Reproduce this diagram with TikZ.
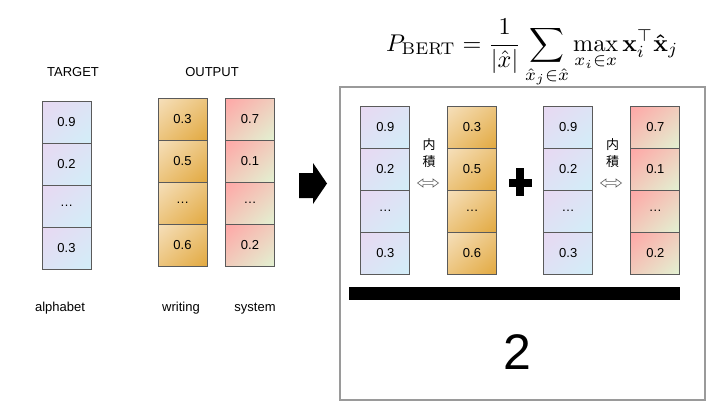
\documentclass[tikz,border=0pt]{standalone}
\usepackage{amsmath,amssymb,bm}
\usepackage[no-math]{fontspec}
\setmainfont{Liberation Sans}
\newfontfamily\cjk{Noto Sans CJK JP}
\usetikzlibrary{shadings}
\definecolor{tgA}{HTML}{E8D8F2}
\definecolor{tgB}{HTML}{D2EEF8}
\definecolor{wrA}{HTML}{F6E0BC}
\definecolor{wrB}{HTML}{E2A940}
\definecolor{syA}{HTML}{FFA6A6}
\definecolor{syB}{HTML}{E2F2D2}
\definecolor{cellborder}{HTML}{5A5A5A}
\definecolor{framegray}{HTML}{9A9A9A}
\newcommand{\mkcol}[8]{%
  % #1 name prefix, #2 x center, #3 y top, #4 style, #5-#8 values
  \node[cellbox,#4] (#1a) at (#2,#3+21) {#5};
  \node[cellbox,#4] (#1b) at (#2,#3+63) {#6};
  \node[cellbox,#4] (#1c) at (#2,#3+105) {#7};
  \node[cellbox,#4] (#1d) at (#2,#3+147) {#8};
}
\tikzset{
  cellbox/.style={draw=cellborder, line width=0.9pt, minimum width=49pt, minimum height=42pt, inner sep=0pt, font=\fontsize{13}{15}\selectfont},
  tgcell/.style={upper left=tgA, lower right=tgB, upper right=tgA!50!tgB, lower left=tgA!50!tgB},
  wrcell/.style={upper left=wrA, lower right=wrB, upper right=wrA!50!wrB, lower left=wrA!50!wrB},
  sycell/.style={upper left=syA, lower right=syB, upper right=syA!50!syB, lower left=syA!50!syB},
  lbl/.style={font=\fontsize{13}{15}\selectfont, inner sep=0pt},
  cjklbl/.style={font=\cjk\fontsize{13}{15}\selectfont, inner sep=0pt},
  dblarrow/.style={draw=cellborder, line width=0.6pt, fill=white},
}
\begin{document}
\begin{tikzpicture}[x=1pt,y=-1pt]
\useasboundingbox (0,0) rectangle (727,410);
\fill[white] (0,0) rectangle (727,410);
% labels
\node[lbl] (ttarget) at (73,72) {TARGET};
\node[lbl] (toutput) at (212,72) {OUTPUT};
\node[lbl] (talpha) at (60,308.5) {alphabet};
\node[lbl] (twrite) at (181,308.5) {writing};
\node[lbl] (tsys) at (255,308.5) {system};
% left columns
\mkcol{T}{66.5}{101}{tgcell}{0.9}{0.2}{…}{0.3}
\mkcol{W}{182.5}{98}{wrcell}{0.3}{0.5}{…}{0.6}
\mkcol{S}{250}{98}{sycell}{0.7}{0.1}{…}{0.2}
% big arrow
\fill[black] (299,173) -- (313,173) -- (313,163) -- (327,183.5) -- (313,204) -- (313,198) -- (299,198) -- cycle;
% formula
\node[inner sep=0pt, anchor=west] (formula) at (386,53.5)
  {\scalebox{2.42}{$\displaystyle P_{\mathrm{BERT}} = \frac{1}{|\hat{x}|}\sum_{\hat{x}_j\in\hat{x}}\max_{x_i\in x}\mathbf{x}_i^{\top}\bm{\hat{\mathbf{x}}}_j$}};
% frame
\node[draw=framegray, line width=1.4pt, minimum width=365pt, minimum height=313pt, inner sep=0pt] (frame) at (522.5,243.5) {};
\mkcol{A}{385.3}{106}{tgcell}{0.9}{0.2}{…}{0.3}
\mkcol{B}{472}{106}{wrcell}{0.3}{0.5}{…}{0.6}
\mkcol{C}{568.2}{106}{tgcell}{0.9}{0.2}{…}{0.3}
\mkcol{D}{655.3}{106}{sycell}{0.7}{0.1}{…}{0.2}
% inner product labels
\node[cjklbl] (nai1) at (429,145) {内};
\node[cjklbl] (seki1) at (429,162) {積};
\node[cjklbl] (nai2) at (612.5,145) {内};
\node[cjklbl] (seki2) at (612.5,162) {積};
% hollow double arrows
\foreach \cx/\nm in {428/da1, 611/da2}{
  \draw[dblarrow] (\cx-10.5,183) -- (\cx-5,179) -- (\cx-5,181.4) -- (\cx+5,181.4) -- (\cx+5,179) -- (\cx+10.5,183) -- (\cx+5,187) -- (\cx+5,184.6) -- (\cx-5,184.6) -- (\cx-5,187) -- cycle;
}
% plus
\fill[black] (516,168) rectangle (524,196);
\fill[black] (509,179) rectangle (532,187);
% fraction bar
\fill[black] (349,287) rectangle (680,300);
\node[inner sep=0pt, font=\fontsize{50}{52}\selectfont] (two) at (517,352) {2};
\end{tikzpicture}
\end{document}
